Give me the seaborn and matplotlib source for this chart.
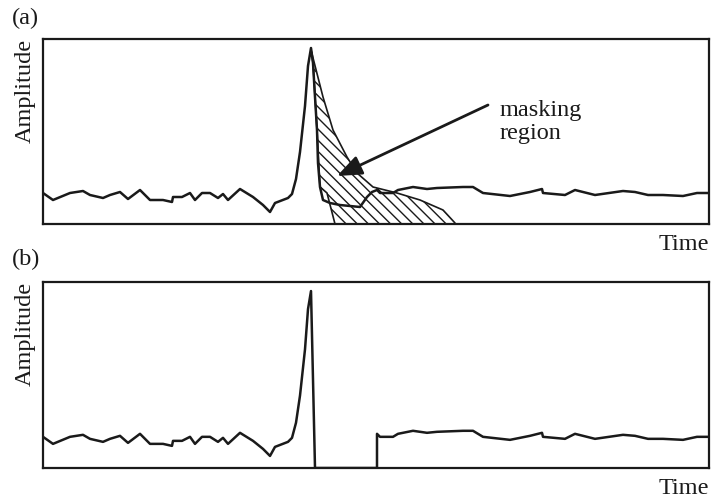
import numpy as np
import pandas as pd
import matplotlib
matplotlib.use("Agg")
import matplotlib.pyplot as plt
import seaborn as sns

# ---- data (time in arbitrary units, amplitude in arbitrary units) ----
time = [0, 10, 27, 40, 47, 60, 67, 77, 85, 97, 107, 120, 129, 130, 139, 147, 152,
        159, 167, 175, 180, 185, 197, 210, 220, 227, 232, 245, 249, 253, 257, 262,
        265, 268, 270, 272, 274, 275, 277, 280, 287, 297, 317, 324, 329, 334, 337,
        350, 355, 370, 384, 394, 420, 430, 440, 467, 487, 499, 500, 522, 532, 552,
        580, 592, 605, 620, 640, 654, 666]
amplitude = [31, 24, 31, 33, 29, 26, 29, 32, 25, 34, 24, 24, 22, 27, 27, 31, 24,
             31, 31, 26, 30, 24, 35, 27, 19, 12, 21, 26, 30, 45, 72, 118,
             158, 176, 161, 127, 94, 61, 37, 24, 21, 19, 17, 27, 32, 34, 31,
             31, 34, 37, 35, 36, 37, 37, 31, 28, 32, 35, 31, 29, 34, 29,
             33, 32, 29, 29, 28, 31, 31]

peak_time = 268
mask_start = 272
mask_end = 334

# masking region outline (time, amplitude)
mask_time = [268, 280, 290, 304, 314, 330, 354, 377, 400, 412, 412, 292, 284, 277, 274, 270]
mask_amp = [174, 127, 94, 67, 51, 37, 31, 24, 14, 1, 0, 0, 31, 37, 94, 161]

# ---- derived masked signal for panel (b) ----
t = np.array(time, dtype=float)
a = np.array(amplitude, dtype=float)
pre = t <= peak_time
post = t >= mask_end
t_b = np.concatenate([t[pre], [mask_start, mask_end], t[post]])
a_b = np.concatenate([a[pre], [0, 0], a[post]])
df_a = pd.DataFrame({"Time": t, "Amplitude": a})
df_b = pd.DataFrame({"Time": t_b, "Amplitude": a_b})

sns.set_theme(style="white")
plt.rcParams["font.family"] = ["Liberation Serif", "DejaVu Serif"]
plt.rcParams["hatch.linewidth"] = 1.0
plt.rcParams["hatch.color"] = "#1a1a1a"

W, H = 713, 498
fig = plt.figure(figsize=(W / 100, H / 100), dpi=100)

def axes_px(l, t_, r, b):
    return fig.add_axes([l / W, 1 - b / H, (r - l) / W, (b - t_) / H])

ax1 = axes_px(43, 39, 709, 224)
ax2 = axes_px(43, 282, 709, 468)

LC = "#1a1a1a"
FS = 17.5
for ax, df in ((ax1, df_a), (ax2, df_b)):
    sns.lineplot(data=df, x="Time", y="Amplitude", ax=ax, color=LC, lw=1.8,
                 estimator=None, sort=False, solid_joinstyle="round",
                 solid_capstyle="round")
    ax.set_xlim(0, 666)
    ax.set_ylim(0, 185)
    ax.set_xticks([])
    ax.set_yticks([])
    for s in ax.spines.values():
        s.set_visible(True)
        s.set_color(LC)
        s.set_linewidth(1.6)
    ax.set_xlabel("Time", loc="right", fontsize=FS, labelpad=7, color=LC)
    ax.set_ylabel("Amplitude", loc="top", fontsize=FS, labelpad=5, color=LC)

# masking region (hatched)
ax1.fill(mask_time, mask_amp, facecolor="none", edgecolor=LC, hatch="\\\\\\",
         lw=1.2, zorder=1, joinstyle="round")

ax1.annotate("", xy=(294, 48), xytext=(445, 119),
             arrowprops=dict(arrowstyle="-|>,head_length=1.0,head_width=0.4",
                             mutation_scale=15, lw=2.0, color=LC,
                             shrinkA=0, shrinkB=0))
ax1.text(457, 124, "masking\nregion", fontsize=FS, ha="left", va="top",
         linespacing=1.12, color=LC)

fig.text(12 / W, 1 - 18 / H, "(a)", fontsize=FS, ha="left", va="center", color=LC)
fig.text(12 / W, 1 - 259 / H, "(b)", fontsize=FS, ha="left", va="center", color=LC)

fig.savefig("out.png", dpi=100, facecolor="white")
